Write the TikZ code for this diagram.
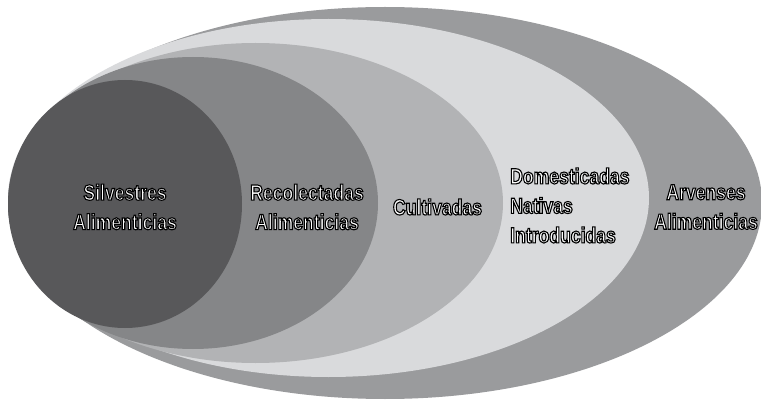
\documentclass[tikz,border=0pt]{standalone}
\usepackage{fontspec}
\setmainfont{Liberation Sans}[FakeStretch=0.8,BoldFont={Liberation Sans Bold}]
\usetikzlibrary{calc}
\definecolor{cArv}{HTML}{9A9B9D}
\definecolor{cDom}{HTML}{D9DADC}
\definecolor{cCul}{HTML}{B2B3B5}
\definecolor{cRec}{HTML}{858688}
\definecolor{cSil}{HTML}{58585A}
\newcommand{\outon}{\special{pdf:literal direct 2 Tr 1.1 w 0 0 0 RG 1 1 1 rg}}
\newcommand{\outoff}{\special{pdf:literal direct 0 Tr}}
\tikzset{lbl/.style={font=\fontsize{22}{29.5}\selectfont\bfseries, inner sep=0pt, text=white}}
\begin{document}
\begin{tikzpicture}[x=1pt,y=-1pt]
\useasboundingbox (0,0) rectangle (761,401);
\fill[white] (0,0) rectangle (761,401);
\fill[cArv] (385,203) ellipse [x radius=377pt, y radius=196pt];
\fill[cDom] (328.5,198) ellipse [x radius=320.5pt, y radius=179pt];
\fill[cCul] (255.5,203) ellipse [x radius=247.5pt, y radius=160pt];
\fill[cRec] (193,203) ellipse [x radius=185pt, y radius=146pt];
\fill[cSil] (125,204) ellipse [x radius=117pt, y radius=124pt];
\node[lbl,align=center] (tSil) at (125,207) {\outon Silvestres\\Alimenticias\outoff};
\node[lbl,align=center] (tRec) at (307,207) {\outon Recolectadas\\Alimenticias\outoff};
\node[lbl,align=center] (tCul) at (437.5,207) {\outon Cultivadas\outoff};
\node[lbl,align=left,anchor=west] (tDom) at (510,205.5) {\outon Domesticadas\\Nativas\\Introducidas\outoff};
\node[lbl,align=center] (tArv) at (706,207) {\outon Arvenses\\Alimenticias\outoff};
\end{tikzpicture}
\end{document}
